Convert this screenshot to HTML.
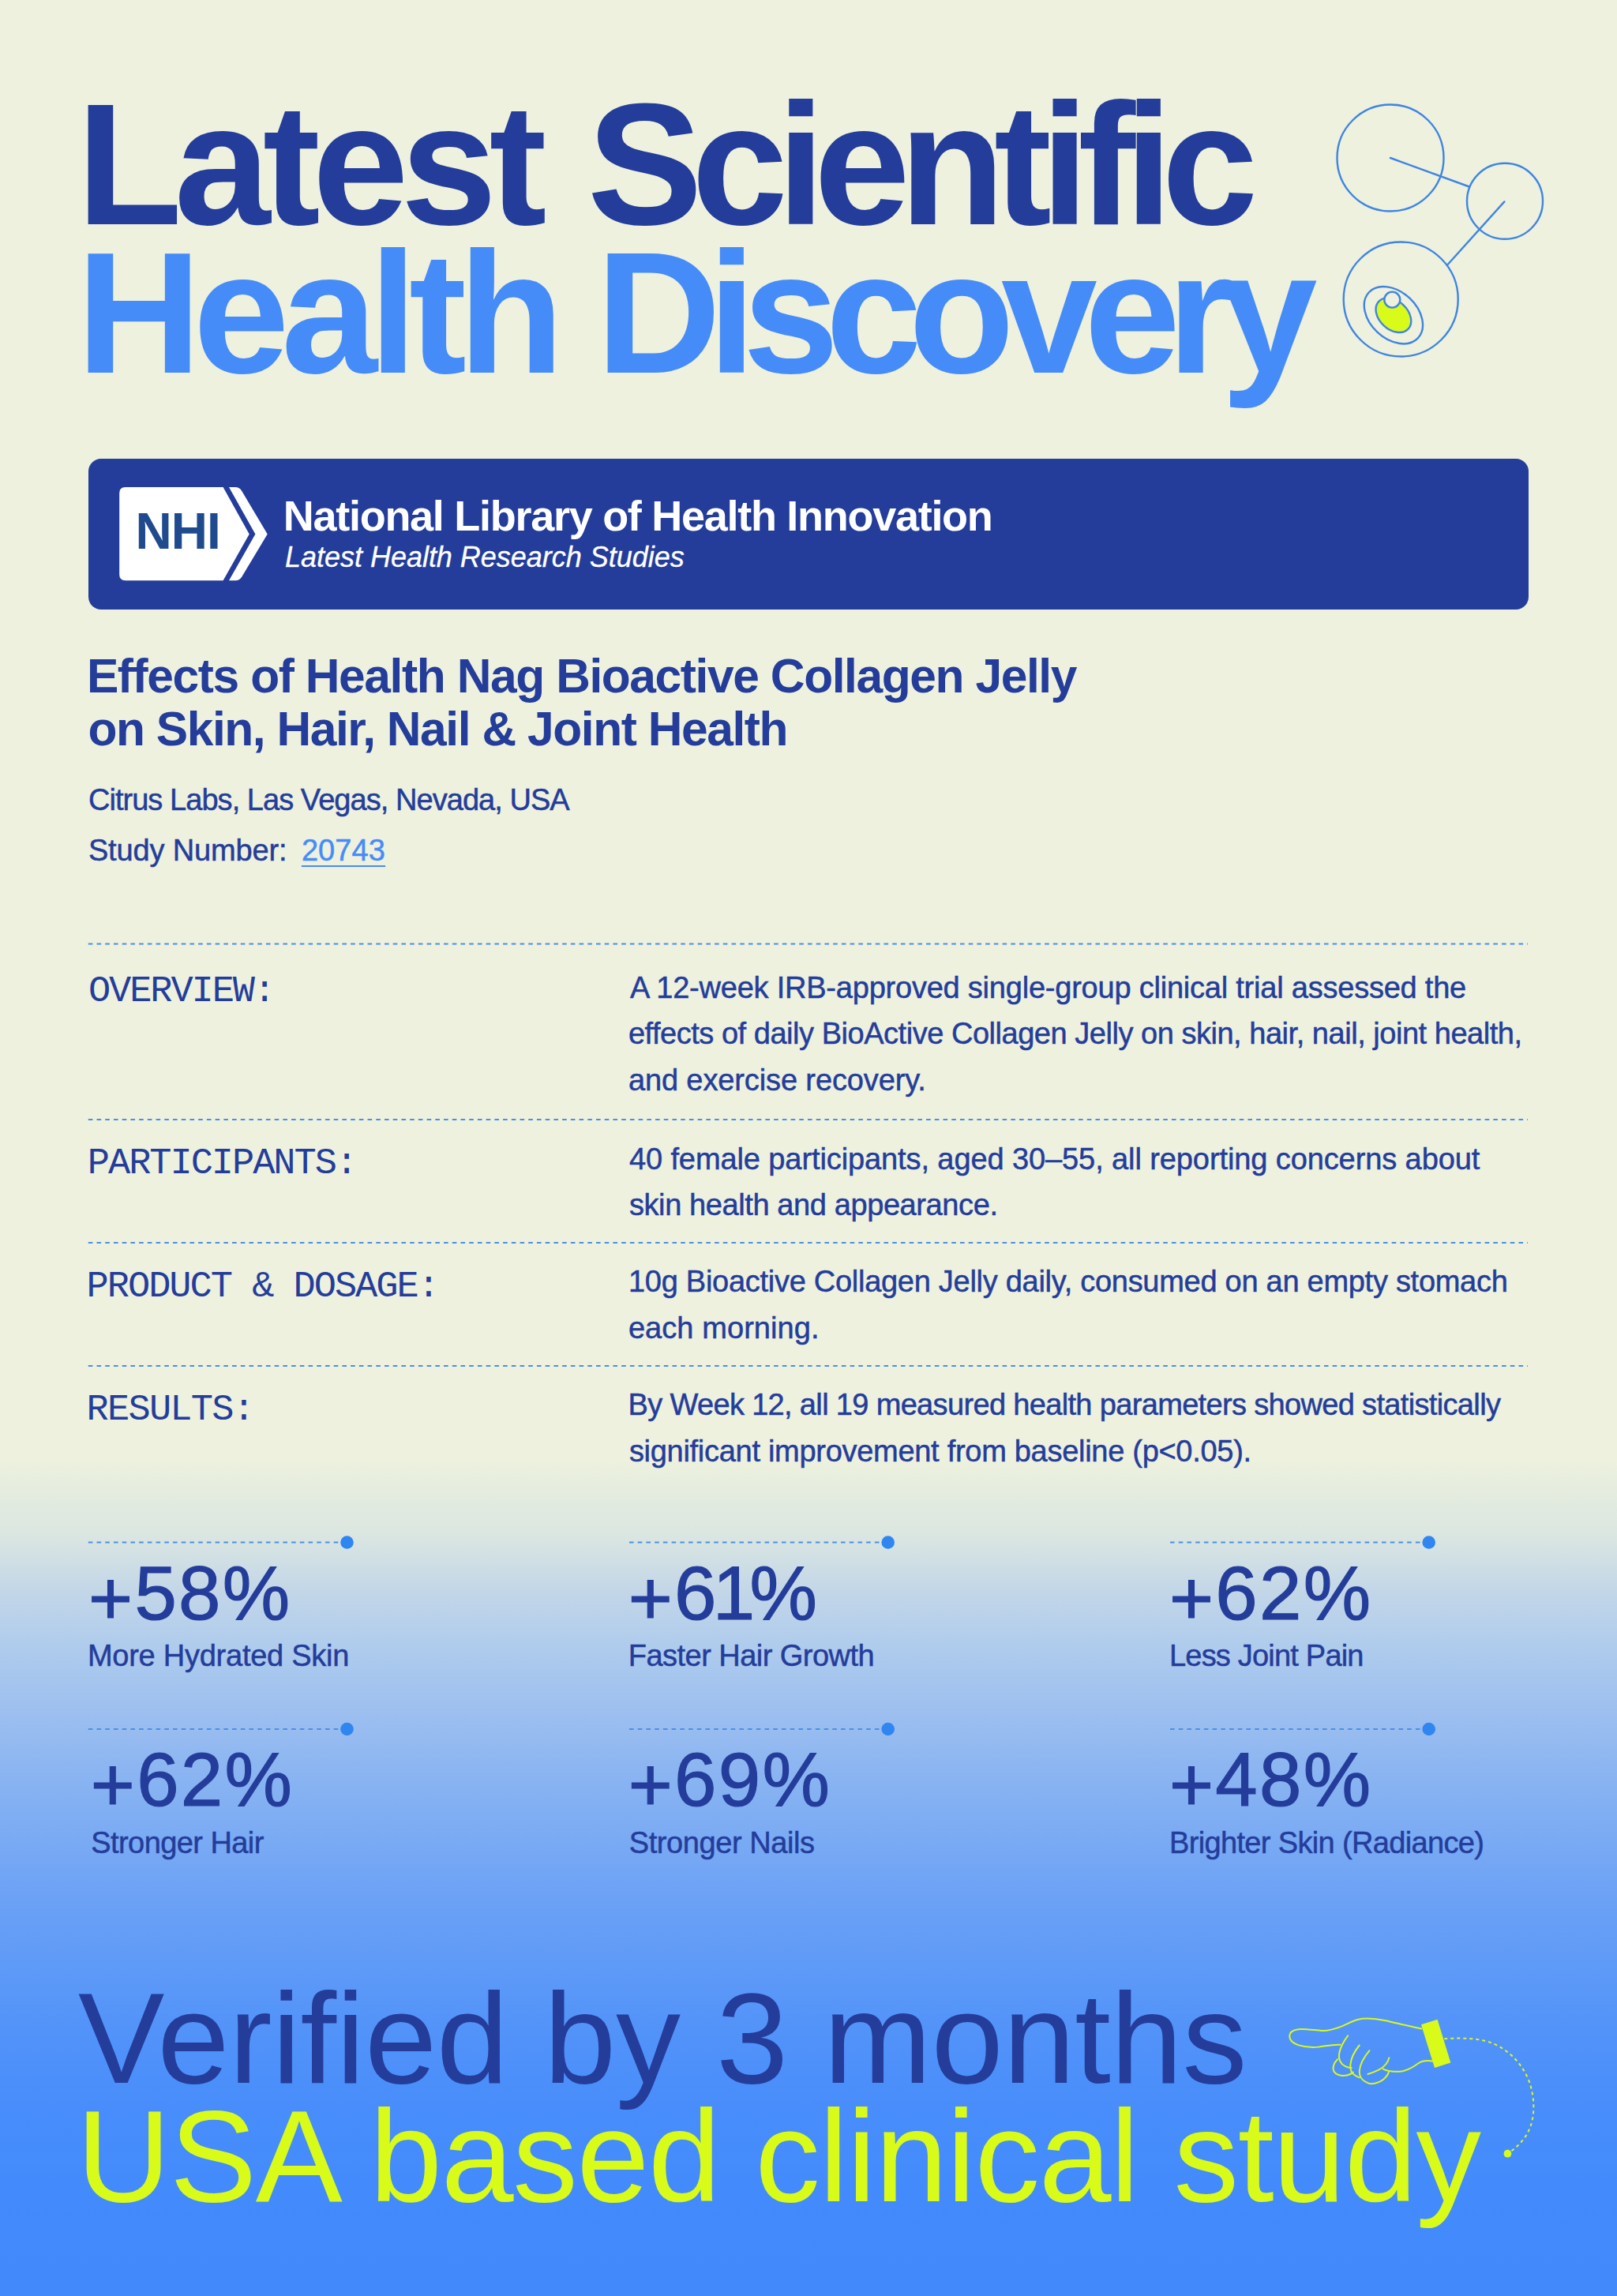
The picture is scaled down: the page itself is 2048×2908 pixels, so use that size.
<!DOCTYPE html>
<html lang="en">
<head>
<meta charset="utf-8">
<title>Latest Scientific Health Discovery</title>
<style>
  html, body { margin: 0; padding: 0; }
  body {
    width: 2048px; height: 2908px; position: relative; overflow: hidden;
    background: #edf1de;
    font-family: "Liberation Sans", sans-serif;
    color: #243d9a;
  }
  #bg {
    position: absolute; left: 0; top: 0; width: 2048px; height: 2908px;
    background: linear-gradient(to bottom,
      #edf1de 0px, #edf1de 1850px,
      #dae6e1 1945px,
      #c2d6e8 2017px,
      #aecbed 2090px,
      #9ec0ef 2162px,
      #8db6f1 2234px,
      #7eadf3 2307px,
      #70a4f5 2379px,
      #609bf7 2476px,
      #5293f9 2572px,
      #488dfb 2669px,
      #438bfc 2765px,
      #428afc 2908px);
  }
  .t { position: absolute; white-space: nowrap; line-height: 1; margin: 0; }
  #banner { position: absolute; left: 112px; top: 581px; width: 1824px; height: 190.5px; border-radius: 16px; background: #243d9a; }
  .pl { position: relative; top: 7px; }
  svg { position: absolute; left: 0; top: 0; overflow: visible; }
</style>
</head>
<body>
<div id="bg"></div>

<!-- title -->
<div class="t" id="t1a" style="left:97.0px;top:99.4px;font-size:219px;letter-spacing:-9.92px;color:#243d9a;font-weight:700;">Latest</div>
<div class="t" id="t1b" style="left:743.8px;top:99.4px;font-size:219px;letter-spacing:-13.8px;color:#243d9a;font-weight:700;">Scientific</div>
<div class="t" id="t2a" style="left:97.0px;top:287.4px;font-size:219px;letter-spacing:-10.4px;color:#468cf9;font-weight:700;">Health</div>
<div class="t" id="t2b" style="left:755.0px;top:287.4px;font-size:219px;letter-spacing:-16.67px;color:#468cf9;font-weight:700;">Discovery</div>
<div id="banner"></div>
<svg id="art" width="2048" height="2908" viewBox="0 0 2048 2908">
<g fill="none" stroke="#3f85e0" stroke-width="2.4" stroke-linecap="round">
<circle cx="1761" cy="200" r="67.5"/>
<circle cx="1906" cy="254.8" r="48"/>
<circle cx="1774.2" cy="379" r="72.5"/>
<line x1="1761" y1="200" x2="1860.9" y2="236.5"/>
<line x1="1905.4" y1="255.4" x2="1833.2" y2="335.5"/>
<ellipse cx="1764.9" cy="399.2" rx="42.5" ry="29.7" transform="rotate(43 1764.9 399.2)"/>
<ellipse cx="1764.9" cy="399.2" rx="25.5" ry="18" transform="rotate(43 1764.9 399.2)" fill="#d8fb1a"/>
<circle cx="1763.3" cy="379.6" r="10" fill="#edf1de"/>
</g>
<line x1="111.8" y1="1195.5" x2="1935" y2="1195.5" stroke="#4b8fe3" stroke-width="2" stroke-dasharray="5.6 5.12"/>
<line x1="111.8" y1="1418" x2="1935" y2="1418" stroke="#4b8fe3" stroke-width="2" stroke-dasharray="5.6 5.12"/>
<line x1="111.8" y1="1574" x2="1935" y2="1574" stroke="#4b8fe3" stroke-width="2" stroke-dasharray="5.6 5.12"/>
<line x1="111.8" y1="1730" x2="1935" y2="1730" stroke="#4b8fe3" stroke-width="2" stroke-dasharray="5.6 5.12"/>
<line x1="111.8" y1="1953.5" x2="433.8" y2="1953.5" stroke="#4b8fe3" stroke-width="2" stroke-dasharray="5.6 5.12"/>
<circle cx="439.5" cy="1953.5" r="8.3" fill="#2f86f0"/>
<line x1="797" y1="1953.5" x2="1119" y2="1953.5" stroke="#4b8fe3" stroke-width="2" stroke-dasharray="5.6 5.12"/>
<circle cx="1124.7" cy="1953.5" r="8.3" fill="#2f86f0"/>
<line x1="1482" y1="1953.5" x2="1804" y2="1953.5" stroke="#4b8fe3" stroke-width="2" stroke-dasharray="5.6 5.12"/>
<circle cx="1809.7" cy="1953.5" r="8.3" fill="#2f86f0"/>
<line x1="111.8" y1="2190" x2="433.8" y2="2190" stroke="#4b8fe3" stroke-width="2" stroke-dasharray="5.6 5.12"/>
<circle cx="439.5" cy="2190" r="8.3" fill="#2f86f0"/>
<line x1="797" y1="2190" x2="1119" y2="2190" stroke="#4b8fe3" stroke-width="2" stroke-dasharray="5.6 5.12"/>
<circle cx="1124.7" cy="2190" r="8.3" fill="#2f86f0"/>
<line x1="1482" y1="2190" x2="1804" y2="2190" stroke="#4b8fe3" stroke-width="2" stroke-dasharray="5.6 5.12"/>
<circle cx="1809.7" cy="2190" r="8.3" fill="#2f86f0"/>
<g fill="#ffffff">
<path d="M158.7,617 L282.6,617 L315.7,676.4 L282.6,735.2 L158.7,735.2 Q151.2,735.2 151.2,727.7 L151.2,624.5 Q151.2,617 158.7,617 Z"/>
<path d="M290,617 L298,617 Q303.3,617 306,621.5 L338.7,676.4 L306,731 Q303.3,735.2 298,735.2 L290,735.2 L323.4,676.4 Z"/>
</g>
<g transform="translate(1620 2540) scale(0.14224)" fill="none" stroke="#d8fb1a" stroke-width="14" stroke-linecap="round" stroke-linejoin="round">
<path d="M1268,208 C1200,195 1050,158 950,135 C890,122 810,112 740,118 C670,125 610,165 560,185 C500,208 430,228 380,225 C320,222 230,205 170,212 C120,220 92,245 93,275 C94,310 120,335 170,352 C230,372 300,375 350,370 C410,365 470,345 545,350"/>
<path d="M612,270 C575,320 545,370 535,430 C528,480 545,520 590,543 C610,553 625,556 645,556"/>
<path d="M520,480 C485,515 470,560 492,592 C515,625 565,632 610,620 C632,614 648,605 660,595"/>
<path d="M715,355 C670,410 640,470 635,530 C632,575 650,610 680,625 C695,633 705,638 715,642"/>
<path d="M805,402 C760,455 722,520 716,580 C712,630 740,675 800,694 C860,708 930,670 960,625 C970,610 975,600 978,588"/>
<path d="M980,465 C970,510 940,545 890,572 C850,592 820,603 790,612"/>
<path d="M925,565 C960,585 1040,595 1100,585 C1150,575 1200,545 1240,515 C1270,495 1310,486 1368,496"/>
<path d="M1265,170 L1410,125 L1528,510 L1385,555 Z" fill="#d8fb1a" stroke="none"/>
</g>
<g transform="translate(1610 2530) scale(0.22263)" fill="none" stroke="#d8fb1a">
<path d="M985,235 C1060,230 1150,228 1230,250 C1330,280 1420,360 1465,470 C1510,590 1500,720 1440,800 C1415,835 1385,860 1350,885" stroke-width="9" stroke-dasharray="18 18"/>
<circle cx="1345" cy="888" r="22" fill="#d8fb1a" stroke="none"/>
</g>
</svg>
<div class="t" id="nhi" style="left:171.5px;top:640.5px;font-size:64px;font-weight:700;letter-spacing:-1px;color:#1f4b8e;">NHI</div>
<div class="t" id="b1" style="left:358.8px;top:626.0px;font-size:54px;letter-spacing:-1.28px;color:#ffffff;font-weight:700;">National Library of Health Innovation</div>
<div class="t" id="b2" style="left:361.0px;top:688.2px;font-size:36px;letter-spacing:-0.02px;color:#ffffff;font-style:italic;-webkit-text-stroke:0.3px currentColor;">Latest Health Research Studies</div>
<div class="t" id="s1" style="left:109.9px;top:826.2px;font-size:60.5px;letter-spacing:-1.41px;color:#243d9a;font-weight:700;">Effects of Health Nag Bioactive Collagen Jelly</div>
<div class="t" id="s2" style="left:111.4px;top:892.7px;font-size:60.5px;letter-spacing:-1.44px;color:#243d9a;font-weight:700;">on Skin, Hair, Nail &amp; Joint Health</div>
<div class="t" id="s3" style="left:111.9px;top:993.6px;font-size:38px;letter-spacing:-0.95px;color:#243d9a;-webkit-text-stroke:0.5px currentColor;">Citrus Labs, Las Vegas, Nevada, USA</div>
<div class="t" id="s4" style="left:111.9px;top:1058.0px;font-size:38px;letter-spacing:-0.15px;color:#243d9a;-webkit-text-stroke:0.5px currentColor;">Study Number:</div>
<div class="t" id="s5" style="left:381.9px;top:1058.0px;font-size:38px;letter-spacing:0.1px;color:#468cf9;-webkit-text-stroke:0.5px currentColor;text-decoration:underline;text-decoration-thickness:2px;text-underline-offset:6px;">20743</div>
<div class="t" id="l1" style="left:111.9px;top:1231.5px;font-size:47px;letter-spacing:-2.08px;color:#243d9a;font-family:'Liberation Mono', monospace;">OVERVIEW:</div>
<div class="t" id="l2" style="left:110.8px;top:1450.1px;font-size:47px;letter-spacing:-2.03px;color:#243d9a;font-family:'Liberation Mono', monospace;">PARTICIPANTS:</div>
<div class="t" id="l3" style="left:109.6px;top:1606.3px;font-size:47px;letter-spacing:-2.01px;color:#243d9a;font-family:'Liberation Mono', monospace;">PRODUCT &amp; DOSAGE:</div>
<div class="t" id="l4" style="left:109.6px;top:1762.1px;font-size:47px;letter-spacing:-1.77px;color:#243d9a;font-family:'Liberation Mono', monospace;">RESULTS:</div>
<div class="t" id="p1a" style="left:797.9px;top:1231.5px;font-size:38px;letter-spacing:-0.22px;color:#243d9a;-webkit-text-stroke:0.5px currentColor;">A 12-week IRB-approved single-group clinical trial assessed the</div>
<div class="t" id="p1b" style="left:795.9px;top:1290.2px;font-size:38px;letter-spacing:-0.47px;color:#243d9a;-webkit-text-stroke:0.5px currentColor;">effects of daily BioActive Collagen Jelly on skin, hair, nail, joint health,</div>
<div class="t" id="p1c" style="left:795.9px;top:1349.0px;font-size:38px;letter-spacing:-0.12px;color:#243d9a;-webkit-text-stroke:0.5px currentColor;">and exercise recovery.</div>
<div class="t" id="p2a" style="left:796.9px;top:1448.9px;font-size:38px;letter-spacing:-0.1px;color:#243d9a;-webkit-text-stroke:0.5px currentColor;">40 female participants, aged 30–55, all reporting concerns about</div>
<div class="t" id="p2b" style="left:796.9px;top:1507.3px;font-size:38px;letter-spacing:-0.4px;color:#243d9a;-webkit-text-stroke:0.5px currentColor;">skin health and appearance.</div>
<div class="t" id="p3a" style="left:796.0px;top:1604.0px;font-size:38px;letter-spacing:-0.28px;color:#243d9a;-webkit-text-stroke:0.5px currentColor;">10g Bioactive Collagen Jelly daily, consumed on an empty stomach</div>
<div class="t" id="p3b" style="left:795.9px;top:1662.8px;font-size:38px;letter-spacing:0.07px;color:#243d9a;-webkit-text-stroke:0.5px currentColor;">each morning.</div>
<div class="t" id="p4a" style="left:795.5px;top:1760.2px;font-size:38px;letter-spacing:-0.66px;color:#243d9a;-webkit-text-stroke:0.5px currentColor;">By Week 12, all 19 measured health parameters showed statistically</div>
<div class="t" id="p4b" style="left:796.9px;top:1819.0px;font-size:38px;letter-spacing:-0.29px;color:#243d9a;-webkit-text-stroke:0.5px currentColor;">significant improvement from baseline (p&lt;0.05).</div>
<div class="t" id="n1" style="left:112.0px;top:1969.6px;font-size:96px;letter-spacing:2.3px;color:#243d9a;-webkit-text-stroke:1.2px currentColor;"><span class="pl">+</span>58%</div>
<div class="t" id="c1" style="left:110.9px;top:2078.0px;font-size:38px;letter-spacing:-0.25px;color:#243d9a;-webkit-text-stroke:0.5px currentColor;">More Hydrated Skin</div>
<div class="t" id="n2" style="left:795.7px;top:1969.6px;font-size:96px;letter-spacing:2.3px;color:#243d9a;-webkit-text-stroke:1.2px currentColor;"><span class="pl">+</span>6<span style="margin:0 -9px 0 -7px">1</span>%</div>
<div class="t" id="c2" style="left:795.8px;top:2078.0px;font-size:38px;letter-spacing:-0.54px;color:#243d9a;-webkit-text-stroke:0.5px currentColor;">Faster Hair Growth</div>
<div class="t" id="n3" style="left:1480.9px;top:1969.6px;font-size:96px;letter-spacing:2.3px;color:#243d9a;-webkit-text-stroke:1.2px currentColor;"><span class="pl">+</span>62%</div>
<div class="t" id="c3" style="left:1481.0px;top:2078.0px;font-size:38px;letter-spacing:-0.8px;color:#243d9a;-webkit-text-stroke:0.5px currentColor;">Less Joint Pain</div>
<div class="t" id="n4" style="left:114.8px;top:2205.5px;font-size:96px;letter-spacing:2.3px;color:#243d9a;-webkit-text-stroke:1.2px currentColor;"><span class="pl">+</span>62%</div>
<div class="t" id="c4" style="left:115.3px;top:2314.5px;font-size:38px;letter-spacing:-0.58px;color:#243d9a;-webkit-text-stroke:0.5px currentColor;">Stronger Hair</div>
<div class="t" id="n5" style="left:795.7px;top:2205.5px;font-size:96px;letter-spacing:2.3px;color:#243d9a;-webkit-text-stroke:1.2px currentColor;"><span class="pl">+</span>69%</div>
<div class="t" id="c5" style="left:796.8px;top:2314.5px;font-size:38px;letter-spacing:-0.42px;color:#243d9a;-webkit-text-stroke:0.5px currentColor;">Stronger Nails</div>
<div class="t" id="n6" style="left:1480.9px;top:2205.5px;font-size:96px;letter-spacing:2.3px;color:#243d9a;-webkit-text-stroke:1.2px currentColor;"><span class="pl">+</span>48%</div>
<div class="t" id="c6" style="left:1481.0px;top:2314.5px;font-size:38px;letter-spacing:-0.65px;color:#243d9a;-webkit-text-stroke:0.5px currentColor;">Brighter Skin (Radiance)</div>
<div class="t" id="v1" style="left:99.1px;top:2499.7px;font-size:164px;letter-spacing:-0.29px;color:#243d9a;">Verified by 3 months</div>
<div class="t" id="v2" style="left:97.0px;top:2648.7px;font-size:165px;letter-spacing:-1.21px;color:#d8fb1a;">USA based clinical study</div>
</body>
</html>
